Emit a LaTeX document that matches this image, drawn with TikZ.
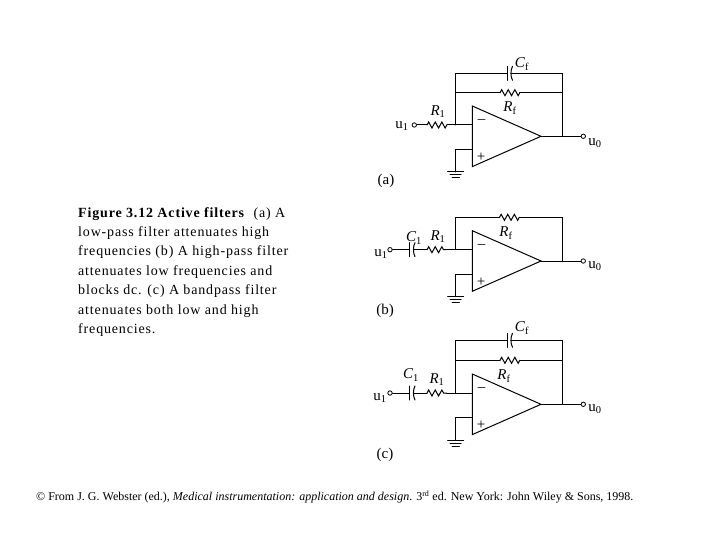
\documentclass[tikz,border=0pt]{standalone}
\usepackage{fontspec}
\setmainfont{Liberation Serif}
\newfontfamily\capfont[LetterSpace=6]{Liberation Serif}
\usetikzlibrary{decorations.pathmorphing}
\tikzset{
  wire/.style={line width=1pt,line cap=round,line join=miter},
  resz/.style={wire,decorate,decoration={zigzag,segment length=6.6pt,amplitude=3pt}},
  term/.style={circle,draw,line width=0.8pt,fill=white,inner sep=0pt,minimum size=4.4pt},
  lab/.style={inner sep=0pt,font=\fontsize{15}{15}\selectfont},
  sign/.style={inner sep=0pt,font=\fontsize{15}{15}\selectfont},
  ground/.style={wire}
}
\newcommand{\Rl}[1]{\textit{R}\textsubscript{#1}}
\newcommand{\Cl}[1]{\textit{C}\textsubscript{#1}}
\newcommand{\ul}[1]{u\textsubscript{#1}}
% stage: name, opamp top y
\newcommand{\opstage}[2]{%
  \coordinate (#1-ul) at (472.3,#2);
  \coordinate (#1-ll) at (472.3,#2+60.6);
  \coordinate (#1-tip) at (541,#2+30.3);
  \coordinate (#1-m) at (472.3,#2+19);
  \coordinate (#1-p) at (472.3,#2+43.3);
  \coordinate (#1-jm) at (455.7,#2+19);
  \coordinate (#1-jp) at (455.7,#2+43.3);
  \coordinate (#1-gnd) at (455.7,#2+66);
  \coordinate (#1-jo) at (562.3,#2+30.3);
  \node[term] (#1-out) at (583.3,#2+30.3) {};
  \draw[wire] (#1-ul) -- (#1-tip) -- (#1-ll) -- cycle;
  \draw[wire] (#1-tip) -- (#1-out);
  \draw[wire] (#1-m) -- (#1-jm);
  \draw[wire] (#1-p) -- (#1-jp) -- (#1-gnd);
  \draw[ground] (447.7,#2+66) -- (463.7,#2+66);
  \draw[ground] (450.2,#2+69) -- (461.2,#2+69);
  \draw[ground] (452,#2+72) -- (459.4,#2+72);
  \node[sign] (#1-minus) at (481.5,#2+16) {–};
  \node[sign] (#1-plus) at (481,#2+51.5) {+};
}
% capacitor: name, x of left plate, y
\newcommand{\capac}[3]{%
  \coordinate (#1-l) at (#2,#3);
  \coordinate (#1-r) at (#2+4,#3);
  \draw[wire] (#2,#3-7) -- (#2,#3+7);
  \draw[wire] (#2+5.5,#3-7) .. controls (#2+3.4,#3-3) and (#2+3.4,#3+3) .. (#2+5.5,#3+7);
}
\begin{document}
\begin{tikzpicture}[x=1pt,y=-1pt]
\useasboundingbox (0,0) rectangle (720,540);

% (a)
\opstage{a}{106}
\coordinate (a-t1) at (455.7,73.3);
\coordinate (a-t2) at (562.3,73.3);
\coordinate (a-f1) at (455.7,92.7);
\coordinate (a-f2) at (562.3,92.7);
\coordinate (a-rfa) at (500,92.7);
\coordinate (a-rfb) at (520,92.7);
\capac{a-cf}{507}{73.3}
\draw[wire] (a-jm) -- (a-t1) -- (a-cf-l);
\draw[wire] (a-cf-r) -- (a-t2) -- (a-jo);
\draw[wire] (a-f1) -- (a-rfa);
\draw[resz] (a-rfa) -- (a-rfb);
\draw[wire] (a-rfb) -- (a-f2);
\node[term] (a-in) at (414.3,125) {};
\coordinate (a-ra) at (427,125);
\coordinate (a-rb) at (447,125);
\draw[wire] (a-in) -- (a-ra);
\draw[resz] (a-ra) -- (a-rb);
\draw[wire] (a-rb) -- (a-jm);
\node[lab] (a-lcf) at (522,64) {\Cl{f}};
\node[lab] (a-lrf) at (510,108) {\Rl{f}};
\node[lab] (a-lr1) at (438,112) {\Rl{1}};
\node[lab] (a-lu1) at (402,126) {\ul{1}};
\node[lab] (a-lu0) at (595,143) {\ul{0}};
\node[lab] (a-cap) at (386,181) {(a)};

% (b)
\opstage{b}{230.7}
\coordinate (b-t1) at (455.7,217.3);
\coordinate (b-t2) at (562.3,217.3);
\coordinate (b-rfa) at (499.5,217.3);
\coordinate (b-rfb) at (519.5,217.3);
\draw[wire] (b-jm) -- (b-t1) -- (b-rfa);
\draw[resz] (b-rfa) -- (b-rfb);
\draw[wire] (b-rfb) -- (b-t2) -- (b-jo);
\node[term] (b-in) at (390,249.7) {};
\capac{b-c1}{409.5}{249.7}
\coordinate (b-ra) at (427,249.7);
\coordinate (b-rb) at (446.5,249.7);
\draw[wire] (b-in) -- (b-c1-l);
\draw[wire] (b-c1-r) -- (b-ra);
\draw[resz] (b-ra) -- (b-rb);
\draw[wire] (b-rb) -- (b-jm);
\node[lab] (b-lc1) at (414,238) {\Cl{1}};
\node[lab] (b-lr1) at (438,237) {\Rl{1}};
\node[lab] (b-lrf) at (506,233) {\Rl{f}};
\node[lab] (b-lu1) at (381,254) {\ul{1}};
\node[lab] (b-lu0) at (595,266) {\ul{0}};
\node[lab] (b-cap) at (385,311) {(b)};

% (c)
\opstage{c}{374}
\coordinate (c-t1) at (455.7,340.3);
\coordinate (c-t2) at (562.3,340.3);
\coordinate (c-f1) at (455.7,360.3);
\coordinate (c-f2) at (562.3,360.3);
\coordinate (c-rfa) at (500,360.3);
\coordinate (c-rfb) at (520,360.3);
\capac{c-cf}{507}{340.3}
\draw[wire] (c-jm) -- (c-t1) -- (c-cf-l);
\draw[wire] (c-cf-r) -- (c-t2) -- (c-jo);
\draw[wire] (c-f1) -- (c-rfa);
\draw[resz] (c-rfa) -- (c-rfb);
\draw[wire] (c-rfb) -- (c-f2);
\node[term] (c-in) at (390,393) {};
\capac{c-c1}{409.5}{393}
\coordinate (c-ra) at (427,393);
\coordinate (c-rb) at (446.5,393);
\draw[wire] (c-in) -- (c-c1-l);
\draw[wire] (c-c1-r) -- (c-ra);
\draw[resz] (c-ra) -- (c-rb);
\draw[wire] (c-rb) -- (c-jm);
\node[lab] (c-lcf) at (522,328) {\Cl{f}};
\node[lab] (c-lrf) at (504,376) {\Rl{f}};
\node[lab] (c-lr1) at (437,380) {\Rl{1}};
\node[lab] (c-lc1) at (411,375) {\Cl{1}};
\node[lab] (c-lu1) at (380,398) {\ul{1}};
\node[lab] (c-lu0) at (595,409) {\ul{0}};
\node[lab] (c-cap) at (385,455) {(c)};

% caption
\node[anchor=north west,inner sep=0pt,align=left,font=\fontsize{14}{19.4}\capfont] (caption) at (78,207)
 {\textbf{Figure 3.12 Active filters}\ \ (a) A\\
  low-pass filter attenuates high\\
  frequencies (b) A high-pass filter\\
  attenuates low frequencies and\\
  blocks dc. (c) A bandpass filter\\
  attenuates both low and high\\
  frequencies.};

% credit
\node[anchor=west,inner sep=0pt,font=\fontsize{12}{12}\selectfont] (credit) at (36,497)
 {© From J. G. Webster (ed.), \textit{Medical instrumentation: application and design}. 3\textsuperscript{rd} ed. New York: John Wiley \& Sons, 1998.};
\end{tikzpicture}
\end{document}
